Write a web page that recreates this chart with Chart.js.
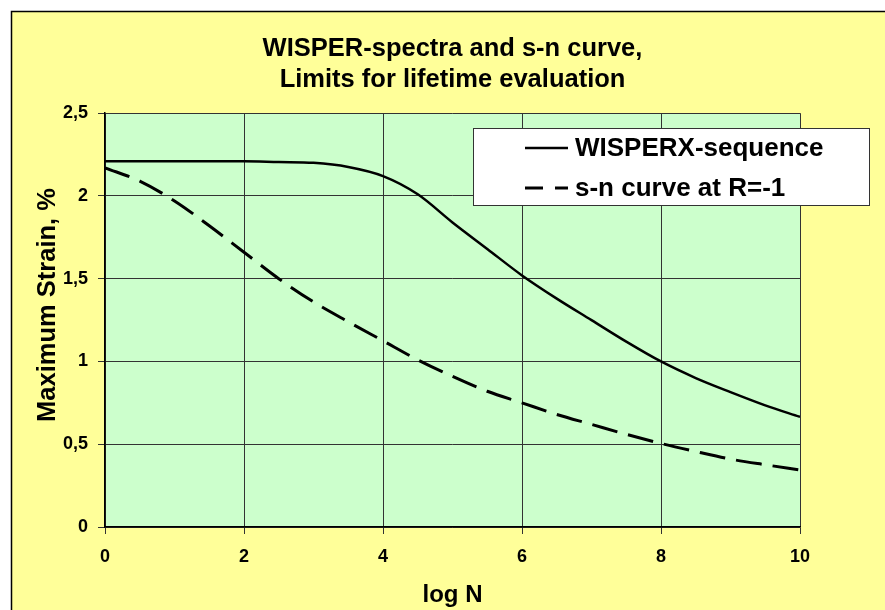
<!DOCTYPE html>
<html>
<head>
<meta charset="utf-8">
<script src="https://cdn.jsdelivr.net/npm/chart.js@4.4.0/dist/chart.umd.min.js"></script>
<style>
  html, body { margin: 0; padding: 0; background: #fff; }
  canvas { display: block; }
</style>
</head>
<body>
<canvas id="chart" width="885" height="610"></canvas>
<script>
// --- Data ---
const logN = [0, 0.5, 1, 1.5, 2, 2.5, 3, 3.5, 4, 4.5, 5, 5.5, 6, 6.5, 7, 7.5, 8, 8.5, 9, 9.5, 10];
const wisperxStrain = [2.21, 2.21, 2.21, 2.21, 2.21, 2.205, 2.20, 2.175, 2.12, 2.01, 1.84, 1.68, 1.52, 1.38, 1.25, 1.12, 1.0, 0.90, 0.815, 0.735, 0.665];
const snStrain = [2.17, 2.09, 1.97, 1.82, 1.66, 1.50, 1.36, 1.24, 1.125, 1.01, 0.91, 0.82, 0.75, 0.68, 0.62, 0.56, 0.505, 0.456, 0.41, 0.376, 0.345];
const seriesLabels = ['WISPERX-sequence', 's-n curve at R=-1'];
const titleLines = ['WISPER-spectra and s-n curve,', 'Limits for lifetime evaluation'];
const xTitle = 'log N';
const yTitle = 'Maximum Strain, %';

const FONT = "'Liberation Sans', Arial, sans-serif";
Chart.defaults.font.family = FONT;
Chart.defaults.font.weight = 'bold';
Chart.defaults.color = '#000';

const toPoints = ys => ys.map((y, i) => ({ x: logN[i], y }));

// Background: white page, yellow chart frame, green plot area
const framePlugin = {
    id: 'frame',
    beforeDraw(chart) {
        const { ctx, chartArea: a } = chart;
        ctx.save();
        ctx.fillStyle = '#fff';
        ctx.fillRect(0, 0, chart.width, chart.height);
        ctx.fillStyle = '#ffff99';
        ctx.fillRect(11, 11, chart.width, chart.height);
        ctx.strokeStyle = '#000';
        ctx.lineWidth = 1.5;
        ctx.strokeRect(11.5, 11.5, chart.width + 20, chart.height + 20);
        ctx.fillStyle = '#ccffcc';
        ctx.fillRect(a.left, a.top, a.right - a.left, a.bottom - a.top);
        ctx.restore();
    }
};

// Rotated y title and the boxed legend inside the plot
const extrasPlugin = {
    id: 'extras',
    afterDraw(chart) {
        const { ctx } = chart;
        ctx.save();
        ctx.font = 'bold 25.5px ' + FONT;
        ctx.fillStyle = '#000';
        ctx.translate(55, 305);
        ctx.rotate(-Math.PI / 2);
        ctx.textAlign = 'center';
        ctx.textBaseline = 'alphabetic';
        ctx.fillText(yTitle, 0, 0);
        ctx.restore();

        // legend
        ctx.save();
        ctx.fillStyle = '#fff';
        ctx.fillRect(473, 128, 396, 77);
        ctx.strokeStyle = '#333';
        ctx.lineWidth = 1;
        ctx.strokeRect(473.5, 128.5, 396, 77);
        const rows = [148, 188];
        chart.data.datasets.forEach((ds, i) => {
            const y = rows[i];
            ctx.strokeStyle = ds.borderColor;
            ctx.lineWidth = ds.borderWidth;
            ctx.setLineDash(ds.borderDash ? [18, 12] : []);
            ctx.beginPath();
            ctx.moveTo(525, y);
            ctx.lineTo(568, y);
            ctx.stroke();
            ctx.setLineDash([]);
            ctx.fillStyle = '#000';
            ctx.font = 'bold 26px ' + FONT;
            ctx.textAlign = 'left';
            ctx.textBaseline = 'middle';
            ctx.fillText(ds.label, 575, y + 1);
        });
        ctx.restore();
    }
};

new Chart(document.getElementById('chart'), {
    type: 'line',
    data: {
        datasets: [{
            label: seriesLabels[0],
            data: toPoints(wisperxStrain),
            borderColor: '#000',
            borderWidth: 2.5,
            pointRadius: 0,
            cubicInterpolationMode: 'monotone'
        }, {
            label: seriesLabels[1],
            data: toPoints(snStrain),
            borderColor: '#000',
            borderWidth: 3,
            borderDash: [26, 11],
            pointRadius: 0,
            cubicInterpolationMode: 'monotone'
        }]
    },
    options: {
        responsive: false,
        animation: false,
        layout: { padding: { left: 0, right: 85, top: 0, bottom: 0 } },
        plugins: {
            legend: { display: false },
            tooltip: { enabled: false },
            title: {
                display: true,
                fullSize: false,
                text: titleLines,
                color: '#000',
                font: { size: 25.5, weight: 'bold', lineHeight: 1.2 },
                padding: { top: 34, bottom: 18 }
            }
        },
        scales: {
            x: {
                type: 'linear',
                min: 0,
                max: 10,
                afterFit: s => { s.height = 83; },
                ticks: { stepSize: 2, padding: 12, font: { size: 18, weight: 'bold' }, color: '#000' },
                grid: { color: '#333', lineWidth: 1, tickLength: 7 },
                border: { color: '#000', width: 1.5 },
                title: { display: true, text: xTitle, font: { size: 24, weight: 'bold' }, color: '#000', padding: { bottom: 0, top: 0 } }
            },
            y: {
                min: 0,
                max: 2.5,
                afterFit: s => { s.width = 105; },
                ticks: {
                    stepSize: 0.5,
                    padding: 10,
                    font: { size: 18, weight: 'bold' },
                    color: '#000',
                    callback: v => String(v).replace('.', ',')
                },
                grid: { color: '#333', lineWidth: 1, tickLength: 7 },
                border: { color: '#000', width: 1.5 }
            }
        }
    },
    plugins: [framePlugin, extrasPlugin]
});
</script>
</body>
</html>
